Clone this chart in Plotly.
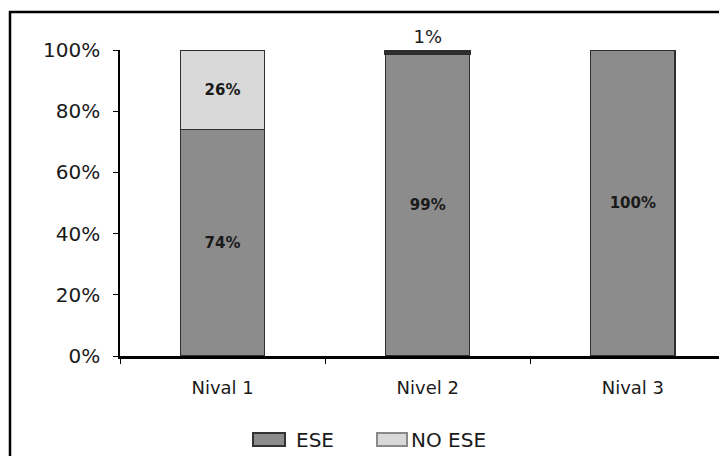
import plotly.graph_objects as go

# Share of each level, stacked to 100 %
categories = ["Nival 1", "Nivel 2", "Nival 3"]
ese = [0.74, 0.99, 1.00]
no_ese = [0.26, 0.01, 0.00]
series_names = ["ESE", "NO ESE"]
y_ticks = [0, 0.2, 0.4, 0.6, 0.8, 1.0]
y_tick_labels = ["0%", "20%", "40%", "60%", "80%", "100%"]

W, H = 719, 456
M_L, M_R, M_T, M_B = 120, 0, 50, 100
FONT = "DejaVu Sans, Liberation Sans, Arial, sans-serif"
TEXT = "#1a1a1a"
ESE_COLOR = "#8c8c8c"
NO_ESE_COLOR = "#d9d9d9"
OUTLINE = "#2e2e2e"


def pct(v):
    return f"{round(v * 100)}%" if v > 0 else ""


def outline_width(v):
    # thin segments get a heavier edge so they read as a dark cap
    if v <= 0:
        return 0
    return 1.2 if v >= 0.05 else 3


def px_x(px):
    """Pixel column -> paper x."""
    return (px - M_L) / (W - M_L - M_R)


def px_y(py):
    """Pixel row -> paper y."""
    return (H - M_B - py) / (H - M_T - M_B)


fig = go.Figure()
fig.add_trace(go.Bar(
    name=series_names[0], x=categories, y=ese,
    marker=dict(color=ESE_COLOR, line=dict(color=OUTLINE, width=1.2)),
    text=[pct(v) for v in ese], textposition="inside",
    insidetextanchor="middle",
    insidetextfont=dict(family=FONT, size=15, color=TEXT, weight="bold"),
    width=0.41,
))
fig.add_trace(go.Bar(
    name=series_names[1], x=categories, y=no_ese,
    marker=dict(color=NO_ESE_COLOR,
                line=dict(color=OUTLINE, width=[outline_width(v) for v in no_ese])),
    text=[pct(v) for v in no_ese],
    textposition=["inside" if v >= 0.05 else ("outside" if v > 0 else "none") for v in no_ese],
    insidetextanchor="middle",
    insidetextfont=dict(family=FONT, size=15, color=TEXT, weight="bold"),
    outsidetextfont=dict(family=FONT, size=18, color=TEXT),
    cliponaxis=False,
    width=0.41,
))

fig.update_layout(
    width=W, height=H,
    barmode="stack",
    plot_bgcolor="white", paper_bgcolor="white",
    margin=dict(l=M_L, r=M_R, t=M_T, b=M_B),
    font=dict(family=FONT, color=TEXT),
    showlegend=False,
    uniformtext=dict(mode=False),
)

fig.update_xaxes(
    range=[-0.5, 2.42],
    showline=True, linecolor="black", linewidth=2.5,
    ticks="outside", tickson="boundaries", ticklen=5, tickcolor="black",
    tickfont=dict(family=FONT, size=18, color=TEXT),
    ticklabelstandoff=14,
    showgrid=False, zeroline=False,
)
fig.update_yaxes(
    range=[0, 1],
    tickvals=y_ticks, ticktext=y_tick_labels,
    showline=True, linecolor="black", linewidth=1.5,
    ticks="outside", ticklen=5, tickcolor="black",
    tickfont=dict(family=FONT, size=20, color=TEXT),
    ticklabelstandoff=9,
    showgrid=False, zeroline=False,
)

# Legend: wide swatches with a label to the right of each
legend_items = [
    (series_names[0], ESE_COLOR, "#333333", 253, 285, 294),
    (series_names[1], NO_ESE_COLOR, "#8a8a8a", 377, 407, 409),
]
for label, fill, edge, sx0, sx1, tx in legend_items:
    fig.add_shape(
        type="rect", xref="paper", yref="paper",
        x0=px_x(sx0), x1=px_x(sx1), y0=px_y(446), y1=px_y(433),
        line=dict(color=edge, width=2), fillcolor=fill,
    )
    fig.add_annotation(
        xref="paper", yref="paper", x=px_x(tx), y=px_y(440),
        xanchor="left", yanchor="middle", showarrow=False,
        text=label, font=dict(family=FONT, size=20, color=TEXT),
    )

# Outer frame around the chart
fig.add_shape(
    type="rect", xref="paper", yref="paper",
    x0=px_x(10), x1=px_x(760), y0=px_y(490), y1=px_y(12),
    line=dict(color="black", width=2.5), fillcolor="rgba(0,0,0,0)",
    layer="below",
)

fig.write_html("out.html")
